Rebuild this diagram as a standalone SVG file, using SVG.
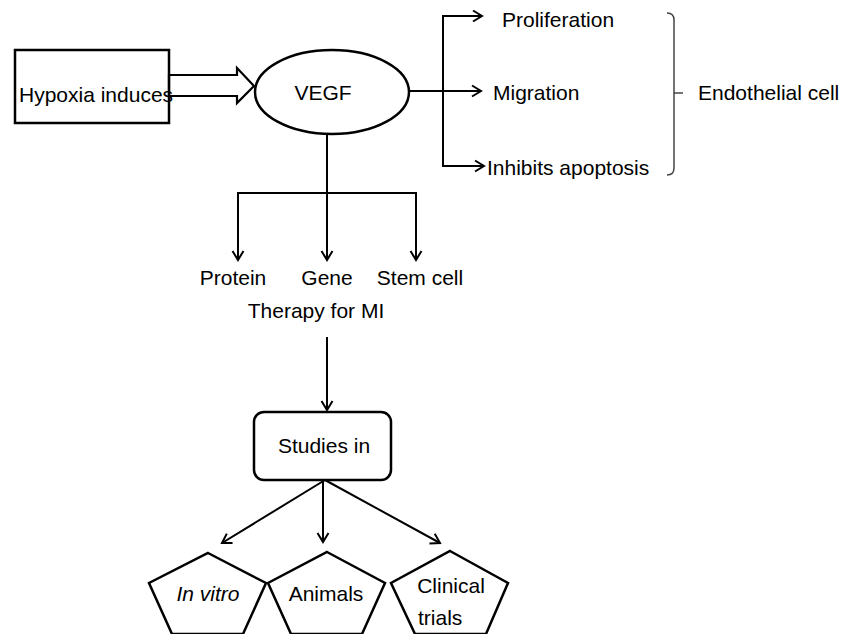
<svg xmlns="http://www.w3.org/2000/svg" width="856" height="634" viewBox="0 0 856 634">
<defs>
<marker id="ah" markerWidth="14" markerHeight="14" refX="11" refY="7" orient="auto" markerUnits="userSpaceOnUse">
<path d="M2,1.5 L11,7 L2,12.5" fill="none" stroke="#000" stroke-width="2"/>
</marker>
</defs>
<style>
text{font-family:"Liberation Sans",Arial,sans-serif;font-size:21px;fill:#000}
.shape{fill:#fff;stroke:#000;stroke-width:2.5}
.ln{fill:none;stroke:#000;stroke-width:2}
.ar{fill:none;stroke:#000;stroke-width:2;marker-end:url(#ah)}
</style>
<rect width="856" height="634" fill="#fff"/>
<g id="connectors">
<polygon points="169,75 237,75 237,68 254,86 237,103 237,96 169,96" fill="#fff" stroke="#000" stroke-width="2.2"/>
<line class="ar" x1="409" y1="91" x2="481" y2="91"/>
<line class="ln" x1="443" y1="16" x2="443" y2="166"/>
<line class="ar" x1="442" y1="16" x2="482" y2="16"/>
<line class="ar" x1="442" y1="166" x2="484" y2="166"/>
<path d="M667,13 Q674,13 674,20 L674,168 Q674,175 667,175 M674,93 L683,93" fill="none" stroke="#444" stroke-width="1.5"/>
<line class="ar" x1="327" y1="134" x2="327" y2="260"/>
<polyline class="ln" points="238,260 238,193 416,193 416,260"/>
<line class="ar" x1="238" y1="193" x2="238" y2="260"/>
<line class="ar" x1="416" y1="193" x2="416" y2="260"/>
<line class="ar" x1="327" y1="337" x2="327" y2="410" stroke-width="2.5"/>
<line class="ar" x1="325" y1="480" x2="222" y2="543"/>
<line class="ar" x1="323" y1="480" x2="323" y2="542"/>
<line class="ar" x1="325" y1="480" x2="440" y2="543"/>
</g>
<g id="hypoxia">
<rect x="15" y="50" width="154" height="73" fill="none" stroke="#000" stroke-width="2.5"/>
<text x="19" y="102">Hypoxia induces</text>
</g>
<g id="vegf">
<ellipse class="shape" cx="332" cy="92" rx="77" ry="42"/>
<text x="323" y="100" text-anchor="middle">VEGF</text>
</g>
<g id="proliferation"><text x="502" y="27">Proliferation</text></g>
<g id="migration"><text x="493" y="100">Migration</text></g>
<g id="apoptosis"><text x="487" y="175">Inhibits apoptosis</text></g>
<g id="endothelial"><text x="698" y="100">Endothelial cell</text></g>
<g id="protein"><text x="233" y="285" text-anchor="middle">Protein</text></g>
<g id="gene"><text x="327" y="285" text-anchor="middle">Gene</text></g>
<g id="stemcell"><text x="420" y="285" text-anchor="middle">Stem cell</text></g>
<g id="therapy"><text x="316" y="318" text-anchor="middle">Therapy for MI</text></g>
<g id="studies">
<rect class="shape" x="254" y="412" width="137" height="68" rx="10"/>
<text x="324" y="453" text-anchor="middle">Studies in</text>
</g>
<g id="invitro">
<polygon class="shape" points="208,553 266,583 243,634 172,634 149,583"/>
<text x="208" y="601" text-anchor="middle" font-style="italic">In vitro</text>
</g>
<g id="animals">
<polygon class="shape" points="327,552 385,583 362,634 291,634 268,583"/>
<text x="326" y="601" text-anchor="middle">Animals</text>
</g>
<g id="clinical">
<polygon class="shape" points="450,551 508,583 486,634 415,634 391,583"/>
<text x="451" y="593" text-anchor="middle">Clinical</text>
<text x="418" y="625">trials</text>
</g>
</svg>
